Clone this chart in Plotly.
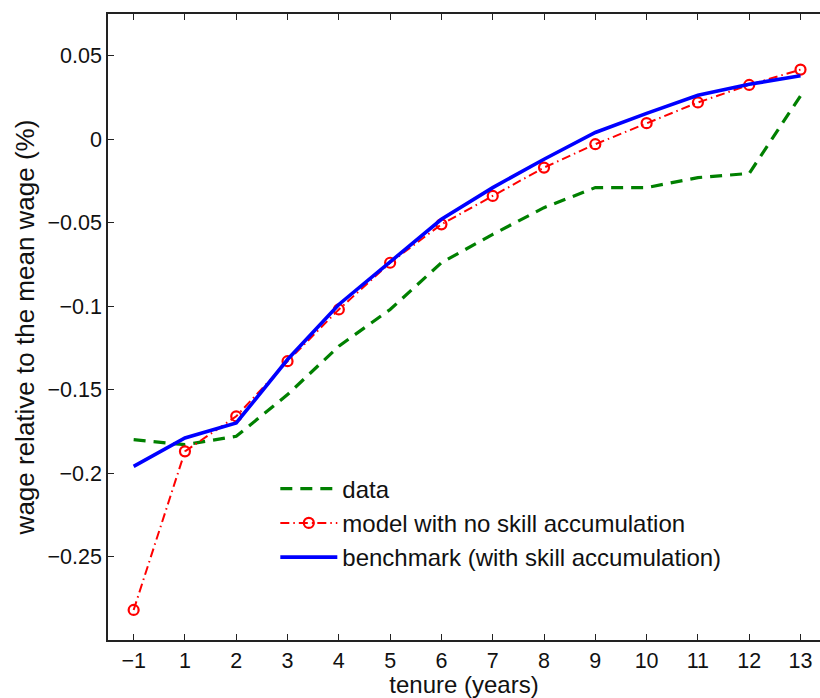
import plotly.graph_objects as go

tenure = ["−1", "1", "2", "3", "4", "5", "6", "7", "8", "9", "10", "11", "12", "13"]
data_vals = [-0.180, -0.183, -0.178, -0.153, -0.124, -0.102, -0.074, -0.057, -0.041, -0.029, -0.029, -0.023, -0.0205, 0.026]
model_no_skill = [-0.282, -0.187, -0.166, -0.133, -0.102, -0.074, -0.051, -0.034, -0.017, -0.003, 0.0096, 0.022, 0.0325, 0.0417]
benchmark = [-0.196, -0.179, -0.170, -0.132, -0.099, -0.0736, -0.048, -0.029, -0.012, 0.004, 0.0155, 0.0263, 0.0329, 0.038]
y_ticks = [-0.25, -0.2, -0.15, -0.1, -0.05, 0, 0.05]
y_tick_labels = ["−0.25", "−0.2", "−0.15", "−0.1", "−0.05", "0", "0.05"]

font = "Liberation Sans, Arial, Helvetica, sans-serif"

fig = go.Figure()
fig.add_trace(go.Scatter(x=tenure, y=data_vals, mode="lines", name="data",
                         line=dict(color="#008000", width=3.2, dash="12px,8px")))
fig.add_trace(go.Scatter(x=tenure, y=model_no_skill, mode="lines+markers",
                         name="model with no skill accumulation",
                         line=dict(color="#ff0000", width=2, dash="9px,4px,1.5px,4px"),
                         marker=dict(symbol="circle-open", size=10, color="#ff0000",
                                     line=dict(width=2.2, color="#ff0000"))))
fig.add_trace(go.Scatter(x=tenure, y=benchmark, mode="lines",
                         name="benchmark (with skill accumulation)",
                         line=dict(color="#0000ff", width=3.6)))

fig.update_layout(
    width=820, height=698,
    margin=dict(l=108, r=0, t=14, b=58),
    plot_bgcolor="white", paper_bgcolor="white",
    font=dict(family=font, size=21.5, color="#111"),
    showlegend=True,
    legend=dict(x=0.235, y=0.277, xanchor="left", yanchor="top",
                bgcolor="rgba(0,0,0,0)", font=dict(size=24),
                itemwidth=57, tracegroupgap=0),
    xaxis=dict(
        type="category", range=[-0.5, 13.38],
        showline=True, linecolor="#222", linewidth=1.5, mirror="ticks",
        ticks="inside", ticklen=6, tickcolor="#222", tickwidth=1,
        showgrid=False, zeroline=False,
        title=dict(text="tenure (years)", standoff=9, font=dict(size=24)),
        tickfont=dict(size=21.5),
    ),
    yaxis=dict(
        range=[-0.3, 0.075], tickvals=y_ticks, ticktext=y_tick_labels,
        showline=True, linecolor="#222", linewidth=1.5,
        ticks="inside", ticklen=6, tickcolor="#222", tickwidth=1,
        showgrid=False, zeroline=False,
        title=dict(text="wage relative to the mean wage (%)", standoff=5, font=dict(size=26)),
        tickfont=dict(size=21.5),
    ),
)

fig.write_html("out.html")
